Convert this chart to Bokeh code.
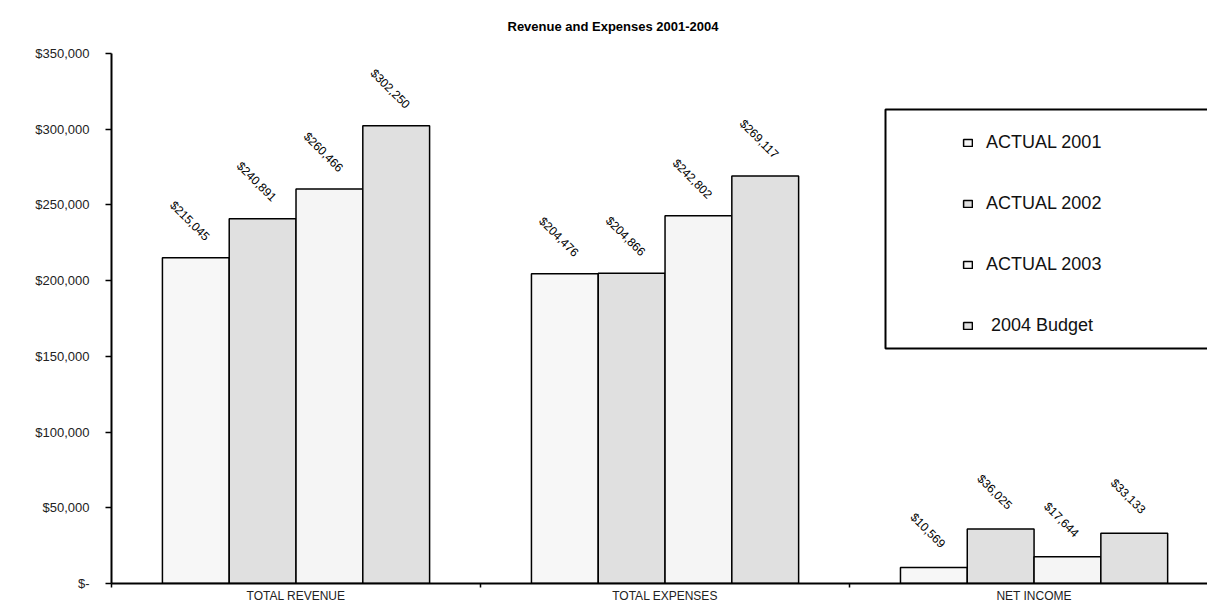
import numpy as np
from bokeh.plotting import figure
from bokeh.models import (Range1d, FixedTicker, NumeralTickFormatter, Legend,
                          LegendItem, BoxAnnotation, ColumnDataSource)
from bokeh.core.properties import value
from bokeh.embed import file_html
from bokeh.resources import INLINE

title = "Revenue and Expenses 2001-2004"
categories = ["TOTAL REVENUE", "TOTAL EXPENSES", "NET INCOME"]
series = ["ACTUAL 2001", "ACTUAL 2002", "ACTUAL 2003", " 2004 Budget"]
actual_2001 = [215045, 204476, 10569]
actual_2002 = [240891, 204866, 36025]
actual_2003 = [260466, 242802, 17644]
budget_2004 = [302250, 269117, 33133]
y_ticks = [0, 50000, 100000, 150000, 200000, 250000, 300000, 350000]

values = [actual_2001, actual_2002, actual_2003, budget_2004]
colors = ["#f7f7f7", "#e0e0e0", "#f5f5f5", "#e0e0e0"]
FONT = "Liberation Sans"

p = figure(width=1207, height=605, output_backend="svg", toolbar_location=None,
           x_range=Range1d(0, 2.97), y_range=Range1d(0, 350000),
           min_border_left=111, min_border_right=0, min_border_top=53,
           min_border_bottom=20)
p.outline_line_color = None
p.xgrid.grid_line_color = None
p.ygrid.grid_line_color = None
p.background_fill_color = "white"

p.title.text = title
p.title.align = "left"
p.title.offset = 396
p.title.vertical_align = "top"
p.title.standoff = 36
p.title.text_font = FONT
p.title.text_font_size = "13px"
p.title.text_font_style = "bold"
p.title.text_color = "black"

bar_w = 0.181
renderers = []
for j, (name, vals, col) in enumerate(zip(series, values, colors)):
    xs = [i + 0.5 + (j - 1.5) * bar_w for i in range(len(categories))]
    src = ColumnDataSource(dict(x=xs, top=vals,
                                lab=["${:,}".format(v) for v in vals]))
    r = p.vbar(x="x", top="top", width=bar_w, source=src, fill_color=col,
               line_color="black", line_width=1.5)
    renderers.append(r)
    p.text(x="x", y="top", text="lab", source=src, angle=-np.pi / 4,
           text_align="center", text_baseline="middle", x_offset=-6, y_offset=-37,
           text_font=value(FONT), text_font_size="12px", text_color="black")

# x axis
xa = p.xaxis[0]
xa.ticker = FixedTicker(ticks=[0.5, 1.5, 2.5], minor_ticks=[0, 1, 2, 3])
xa.major_label_overrides = {0.5: categories[0], 1.5: categories[1], 2.5: categories[2]}
xa.major_tick_line_color = None
xa.major_tick_out = 0
xa.major_tick_in = 0
xa.minor_tick_line_color = "black"
xa.minor_tick_line_width = 1.5
xa.minor_tick_out = 4
xa.minor_tick_in = 0
xa.axis_line_width = 2
xa.axis_line_color = "black"
xa.major_label_standoff = 1
xa.major_label_text_font = FONT
xa.major_label_text_font_size = "12px"
xa.major_label_text_color = "#222222"

# y axis
ya = p.yaxis[0]
ya.ticker = FixedTicker(ticks=y_ticks, minor_ticks=[])
ya.formatter = NumeralTickFormatter(format="$0,0")
ya.major_label_overrides = {0: "$-"}
ya.major_tick_out = 6
ya.major_tick_in = 0
ya.major_tick_line_width = 1.5
ya.axis_line_width = 2
ya.axis_line_color = "black"
ya.major_label_standoff = 16
ya.major_label_text_font = FONT
ya.major_label_text_font_size = "13px"
ya.major_label_text_color = "#222222"

box = BoxAnnotation(left=774, right=1300, bottom=235, top=474,
                    left_units="screen", right_units="screen",
                    bottom_units="screen", top_units="screen",
                    fill_alpha=0, line_color="black", line_alpha=1.0, line_width=2)
p.add_layout(box)

legend = Legend(items=[LegendItem(label=s, renderers=[r]) for s, r in zip(series, renderers)],
                location=(851, 247), padding=0, margin=0, spacing=40,
                label_height=20, glyph_height=9, glyph_width=11, label_standoff=13,
                border_line_color=None, background_fill_alpha=0,
                label_text_font=FONT, label_text_font_size="18px",
                label_text_color="#111111")
p.add_layout(legend)

open("out.html", "w").write(file_html(p, INLINE))
